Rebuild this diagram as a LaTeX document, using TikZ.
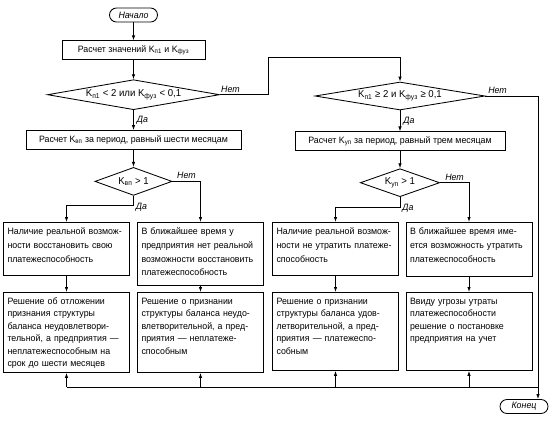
\documentclass[tikz,border=0pt]{standalone}
\usepackage{fontspec}
\setmainfont{Liberation Sans}[FakeStretch=0.96]
\usetikzlibrary{shapes.geometric,positioning,arrows.meta}

\begin{document}
\begin{tikzpicture}[x=1pt, y=-1pt, line width=0.85pt, >={Latex[length=5pt,width=3.5pt]},
    font=\fontsize{9.2}{12}\selectfont,
    term/.style={draw, rounded corners=7pt, minimum width=48pt, minimum height=14pt, inner sep=0pt, font=\fontsize{9.2}{11}\selectfont\itshape},
    calc/.style={draw, minimum height=19pt, inner sep=3pt},
    cond/.style={draw, diamond, aspect=5, inner sep=0pt, minimum height=28pt, font=\fontsize{10}{12}\selectfont},
    txtbox/.style={draw, anchor=north, text width=118pt, align=left, inner xsep=4pt, inner ysep=5pt,
      text height=7pt, text depth=#1},
    lbl/.style={font=\fontsize{9.2}{11}\selectfont\itshape, inner sep=1pt}]
  \useasboundingbox (0,0) rectangle (554,421);

  % left branch
  \node[term] (start) at (133.5,15) {Начало};
  \node[calc, minimum width=143pt] (calc1) [below=18pt of start] {Расчет значений K\textsubscript{п1} и K\textsubscript{фуз}};
  \node[cond, minimum width=172pt, minimum height=30pt] (cond1) [below=19pt of calc1] {K\textsubscript{п1} < 2 или K\textsubscript{фуз} < 0,1};
  \node[calc, minimum width=215pt] (calc2) [below=20pt of cond1] {Расчет K\textsubscript{вп} за период, равный шести месяцам};
  \node[cond, minimum width=77pt] (cond3) [below=17pt of calc2] {K\textsubscript{вп} > 1};

  % right branch
  \node[cond, minimum width=170pt] (cond2) at (400,96) {K\textsubscript{п1} ≥ 2 и K\textsubscript{фуз} ≥ 0,1};
  \node[calc, minimum width=210pt] (calc4) [below=21pt of cond2] {Расчет K\textsubscript{уп} за период, равный трем месяцам};
  \node[cond, minimum width=77pt] (cond4) [below=17pt of calc4] {K\textsubscript{уп} > 1};

  % conclusions
  \begin{scope}[font=\fontsize{9.2}{13.8}\selectfont]
    \node[txtbox=36pt] (boxA) at (66.5,222) {Наличие реальной возмож-\\ности восстановить свою\\платежеспособность};
    \node[txtbox=46pt] (boxB) at (200.5,222) {В ближайшее время у\\предприятия нет реальной\\возможности восстановить\\платежеспособность};
    \node[txtbox=36pt] (boxC) at (335.5,222) {Наличие реальной возмож-\\ности не утратить платеже-\\способность};
    \node[txtbox=37pt] (boxD) at (469,222) {В ближайшее время име-\\ется возможность утратить\\платежеспособность};
  \end{scope}

  % decisions
  \begin{scope}[font=\fontsize{9.2}{12.4}\selectfont]
    \node[txtbox=63pt] (boxE) at (66.5,292) {Решение об отложении\\признания структуры\\баланса неудовлетвори-\\тельной, а предприятия —\\неплатежеспособным на\\срок до шести месяцев};
    \node[txtbox=63pt] (boxF) at (200.5,292) {Решение о признании\\структуры баланса неудо-\\влетворительной, а пред-\\приятия — неплатеже-\\способным};
    \node[txtbox=61pt] (boxG) at (335.5,292) {Решение о признании\\структуры баланса удов-\\летворительной, а пред-\\приятия — платежеспо-\\собным};
    \node[txtbox=61pt] (boxH) at (469,292) {Ввиду угрозы утраты\\платежеспособности\\решение о постановке\\предприятия на учет};
  \end{scope}

  \node[term] (finish) at (524,406.5) {Конец};
  \coordinate (jog) at (268,57);
  \coordinate (bus) at (538,387);

  \draw[->] (start) -- (calc1);
  \draw[->] (calc1) -- (cond1);
  \draw[->] (cond1) -- node[lbl, right=2pt] {Да} (calc2);
  \draw[->] (calc2) -- (cond3);
  \draw[->] (cond1.east) -| node[lbl, pos=0.11, above=1pt] {Нет} (jog) -| (cond2.north);

  \draw[->] (cond2) -- node[lbl, right=2pt] {Да} (calc4);
  \draw[->] (calc4) -- (cond4);
  \draw[->] (cond2.east) -| node[lbl, pos=0.115, above=1pt] {Нет} ([xshift=14pt]finish.north);

  \draw[->] (cond3.east) -| node[lbl, pos=0.25, above=1pt] {Нет} (boxB.north);
  \draw[->] (cond3.south) -- ++(0,10) node[lbl, right=1pt, yshift=-1pt] {Да} -| (boxA.north);
  \draw[->] (cond4.east) -| node[lbl, pos=0.25, above=1pt] {Нет} (boxD.north);
  \draw[->] (cond4.south) -- ++(0,10) node[lbl, right=1pt, yshift=-1pt] {Да} -| (boxC.north);

  \draw[->] (boxA) -- (boxE);
  \draw[->] (boxB) -- (boxF);
  \draw[->] (boxC) -- (boxG);
  \draw[->] (boxD) -- (boxH);

  \draw (boxE.south |- bus) -- (bus);
  \foreach \b in {boxE,boxF,boxG,boxH}
    \draw[->] (\b.south |- bus) -- (\b.south);
\end{tikzpicture}
\end{document}
